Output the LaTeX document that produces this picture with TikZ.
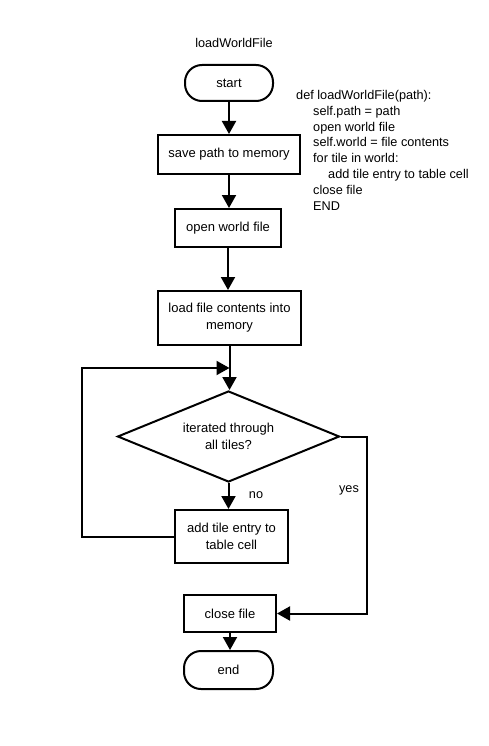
\documentclass[tikz,border=0pt]{standalone}
\usepackage{fontspec}
\setmainfont{Liberation Sans}
\usetikzlibrary{shapes.geometric,arrows.meta}
\begin{document}
\begin{tikzpicture}[x=1pt,y=-1pt,
  lw/.style={line width=2pt},
  box/.style={draw,lw,rectangle,inner sep=0pt,align=center,font=\fontsize{13}{17}\selectfont},
  pill/.style={box,rounded corners=17pt},
  dec/.style={draw,lw,diamond,shape aspect=2.44,inner sep=0pt,align=center,font=\fontsize{13}{17}\selectfont},
  arr/.style={lw,-{Triangle[length=13pt,width=14pt]}},
  lbl/.style={inner sep=0pt,font=\fontsize{12.7}{15.8}\selectfont}]
\useasboundingbox (0,0) rectangle (488,746);
\node[lbl] (title) at (234,43) {loadWorldFile};
\node[pill,minimum width=88pt,minimum height=36pt] (start) at (229,83) {start};
\node[box,minimum width=142pt,minimum height=39pt] (save) at (229,154.5) {save path to memory};
\node[box,minimum width=106pt,minimum height=38pt] (open) at (228,228) {open world file};
\node[box,minimum width=143pt,minimum height=54pt] (load) at (229.5,318) {load file contents into\\memory};
\node[dec,minimum width=222pt,minimum height=91pt] (dia) at (228.5,436.5) {iterated through\\all tiles?};
\node[box,minimum width=113pt,minimum height=53pt] (add) at (231.5,536.5) {add tile entry to\\table cell};
\node[box,minimum width=92pt,minimum height=37pt] (close) at (230,613.5) {close file};
\node[pill,minimum width=89pt,minimum height=38pt] (end) at (228.5,670) {end};
\node[lbl,anchor=north west,align=left] (code) at (296,90) {def loadWorldFile(path):\\
\hspace*{17pt}self.path = path\\
\hspace*{17pt}open world file\\
\hspace*{17pt}self.world = file contents\\
\hspace*{17pt}for tile in world:\\
\hspace*{32pt}add tile entry to table cell\\
\hspace*{17pt}close file\\
\hspace*{17pt}END};
\node[lbl] (no) at (256,495) {no};
\node[lbl] (yes) at (349,490) {yes};
\coordinate (lp) at (82,368);
\coordinate (yr) at (367,436);
\draw[arr] (start.south) -- (start.south |- save.north);
\draw[arr] (save.south) -- (save.south |- open.north);
\draw[arr] (open.south) -- (open.south |- load.north);
\draw[arr] (load.south) -- (load.south |- dia.north);
\draw[arr] (dia.south) -- (dia.south |- add.north);
\draw[arr] (add.west) -| (lp) -- (lp -| load.south);
\draw[arr] (dia.east) -| (yr |- close.east) -- (close.east);
\draw[arr] (close.south) -- (close.south |- end.north);
\end{tikzpicture}
\end{document}
